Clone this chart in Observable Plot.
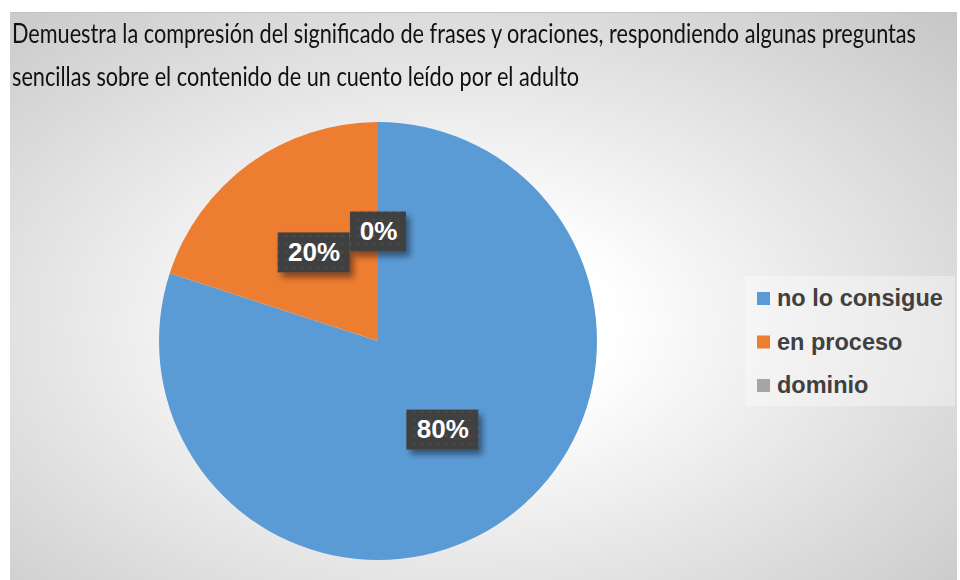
<!DOCTYPE html>
<html>
<head>
<meta charset="utf-8">
<script src="https://cdn.jsdelivr.net/npm/d3@7"></script>
<script src="https://cdn.jsdelivr.net/npm/@observablehq/plot@0.6"></script>
<style>
  html, body { margin: 0; padding: 0; background: #ffffff; }
  #chart {
    position: absolute; left: 10px; top: 12px; width: 947px; height: 568px;
    background: radial-gradient(ellipse farthest-corner at 47% 55%, #ffffff 0%, #ffffff 22%, #c6c6c6 100%);
    border-top: 1px solid #c4c4c4;
    box-sizing: border-box;
    overflow: hidden;
  }
  #title {
    position: absolute; left: 2px; top: 0px; height: 99px;
    font-family: Lato, "Liberation Sans", sans-serif; font-size: 26px; color: #111;
    white-space: nowrap; transform-origin: 0 0;
  }
  #title div { height: 43px; line-height: 43px; }
  #title div:first-child { margin-top: -1px; }
  #plot { position: absolute; left: 0; top: 99px; }
</style>
</head>
<body>
<div id="chart">
  <div id="title"></div>
  <div id="plot"></div>
</div>
<script>
const titleLines = [
  "Demuestra la compresión del significado de frases y oraciones, respondiendo algunas preguntas",
  "sencillas sobre el contenido de un cuento leído por el adulto"
];
const categories = ["no lo consigue", "en proceso", "dominio"];
const values = [80, 20, 0];
const labels = ["80%", "20%", "0%"];
const colors = ["#5B9BD5", "#ED7D31", "#A5A5A5"];

// title
const titleEl = document.getElementById("title");
titleLines.forEach(t => { const d = document.createElement("div"); d.textContent = t; titleEl.appendChild(d); });

const rows = categories.map((c, i) => ({category: c, value: values[i], label: labels[i], color: colors[i]}));
const arcs = d3.pie().sort(null).value(d => d.value)(rows);
const slices = arcs.map(a => ({...a.data, startAngle: a.startAngle, endAngle: a.endAngle, mid: (a.startAngle + a.endAngle) / 2}));
// label anchor: centroid at half radius (data units, y up)
const labelRows = slices.map(s => ({...s, lx: 0.5 * Math.sin(s.mid), ly: 0.5 * Math.cos(s.mid)}));

const W = 947, H = 469;

const pieMark = (index, scales) => {
  const cx = scales.x(0), cy = scales.y(0);
  const r = scales.x(1) - scales.x(0);
  const arc = d3.arc().innerRadius(0).outerRadius(r);
  const g = d3.create("svg:g").attr("transform", `translate(${cx},${cy})`);
  g.selectAll("path").data(slices.filter(s => s.value > 0)).join("path")
    .attr("d", d => arc(d)).attr("fill", d => d.color);
  return g.node();
};

const boxMark = (index, scales) => {
  const g = d3.create("svg:g");
  const defs = g.append("defs");
  const pat = defs.append("pattern").attr("id", "dots").attr("patternUnits", "userSpaceOnUse")
    .attr("width", 8).attr("height", 8);
  pat.append("rect").attr("width", 8).attr("height", 8).attr("fill", "#404040");
  pat.append("rect").attr("x", 3).attr("y", 3).attr("width", 2).attr("height", 2).attr("fill", "#4d4d4d");
  const f = defs.append("filter").attr("id", "shadow").attr("x", "-30%").attr("y", "-30%").attr("width", "170%").attr("height", "190%");
  f.append("feDropShadow").attr("dx", 4).attr("dy", 5).attr("stdDeviation", 3)
    .attr("flood-color", "#000").attr("flood-opacity", 0.45);
  labelRows.forEach(d => {
    const w = 24 + 16 * d.label.length, h = 40;
    g.append("rect").attr("x", scales.x(d.lx) - w / 2).attr("y", scales.y(d.ly) - h / 2)
      .attr("width", w).attr("height", h).attr("fill", "url(#dots)").attr("filter", "url(#shadow)");
  });
  return g.node();
};

const legendMark = () => {
  const g = d3.create("svg:g").attr("text-anchor", "start");
  g.append("rect").attr("x", 735).attr("y", 164).attr("width", 210).attr("height", 130)
    .attr("fill", "#ffffff").attr("fill-opacity", 0.35);
  rows.forEach((d, i) => {
    const y = 180 + i * 43.5;
    g.append("rect").attr("x", 747).attr("y", y).attr("width", 13).attr("height", 13).attr("fill", d.color);
    g.append("text").attr("x", 767).attr("y", y + 14)
      .attr("text-anchor", "start")
      .attr("font-family", "'Liberation Sans', Arial, sans-serif").attr("font-weight", "bold")
      .attr("font-size", 23.5).attr("fill", "#404040").text(d.category);
  });
  return g.node();
};

const plot = Plot.plot({
  width: W,
  height: H,
  style: {background: "transparent", overflow: "visible"},
  x: {domain: [-1, 1], range: [149, 587], axis: null},
  y: {domain: [-1, 1], range: [448, 10], axis: null},
  marks: [
    pieMark,
    boxMark,
    Plot.text(labelRows, {
      x: "lx", y: "ly", text: "label", fill: "#ffffff",
      fontSize: 26, fontWeight: "bold", fontFamily: "'Liberation Sans', Arial, sans-serif"
    }),
    legendMark
  ]
});
document.getElementById("plot").appendChild(plot);

// fit title width to reference line length
const first = titleEl.firstChild;
const range = document.createRange(); range.selectNodeContents(first);
const tw = range.getBoundingClientRect().width;
if (tw > 0) titleEl.style.transform = `scaleX(${904 / tw})`;
</script>
</body>
</html>
